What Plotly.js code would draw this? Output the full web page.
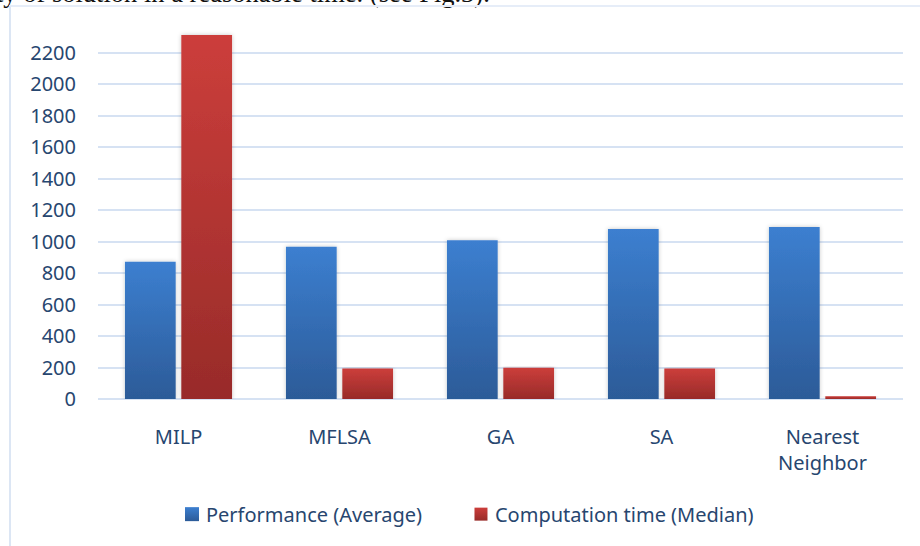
<!DOCTYPE html>
<html><head><meta charset="utf-8">
<script src="https://cdn.plot.ly/plotly-3.0.1.min.js"></script>
<style>
html,body{margin:0;padding:0;background:#fff;overflow:hidden}
#wrap{position:relative;width:920px;height:546px;overflow:hidden;background:#fff}
#frame{position:absolute;left:9px;top:5px;width:1000px;height:600px;border-left:2px solid #dce6f4;border-top:2px solid #e6edf8}
#doc{position:absolute;left:-4px;top:-21px;line-height:28px;font-family:"Liberation Serif",serif;font-size:26.5px;color:#111;white-space:nowrap}
#chart{position:absolute;left:0;top:0;width:920px;height:546px}
</style></head>
<body><div id="wrap"><div id="doc">ty of solution in a reasonable time. (see Fig.3).</div><div id="frame"></div><div id="chart"></div></div>
<script>
const categories = ["MILP", "MFLSA", "GA", "SA", "Nearest<br>Neighbor"];
const performanceAvg = [872, 966, 1008, 1079, 1092];
const computationMedian = [2311, 193, 199, 193, 17];
const yTickValues = [0, 200, 400, 600, 800, 1000, 1200, 1400, 1600, 1800, 2000, 2200];
const seriesNames = ["Performance (Average)", "Computation time (Median)"];

const textColor = "#27466f";
const font = {family: "Noto Sans", size: 20, color: textColor};

const traces = [
  {type: "bar", x: categories, y: performanceAvg, name: seriesNames[0], marker: {color: "#3570bb"}},
  {type: "bar", x: categories, y: computationMedian, name: seriesNames[1], marker: {color: "#b83533"}}
];

const layout = {
  width: 920, height: 546,
  margin: {l: 98, r: 16.5, t: 20.5, b: 144.5, pad: 0},
  paper_bgcolor: "rgba(0,0,0,0)", plot_bgcolor: "rgba(0,0,0,0)",
  font: font,
  barmode: "group", bargap: 0.3, bargroupgap: 0.1,
  showlegend: true,
  legend: {orientation: "h", x: 0.0919, xanchor: "left", y: -0.3046, yanchor: "middle",
           font: font, itemwidth: 30, traceorder: "normal",
           entrywidth: 244, entrywidthmode: "pixels"},
  xaxis: {type: "category", showgrid: false, zeroline: false, showline: false,
          ticks: "outside", ticklen: 20, tickcolor: "rgba(0,0,0,0)", tickfont: font},
  yaxis: {range: [0, 2400], tickmode: "array", tickvals: yTickValues, ticktext: yTickValues.map(String),
          showgrid: true, gridcolor: "#d6e2f3", gridwidth: 2,
          zeroline: true, zerolinecolor: "#d6e2f3", zerolinewidth: 2, showline: false,
          ticks: "outside", ticklen: 17, tickcolor: "rgba(0,0,0,0)", tickfont: font}
};

function addGradients(gd) {
  const svg = gd.querySelector(".main-svg");
  const NS = "http://www.w3.org/2000/svg";
  let defs = svg.querySelector("defs");
  if (!defs) { defs = document.createElementNS(NS, "defs"); svg.insertBefore(defs, svg.firstChild); }
  function grad(id, top, bottom) {
    const g = document.createElementNS(NS, "linearGradient");
    g.setAttribute("id", id); g.setAttribute("x1", "0"); g.setAttribute("y1", "0");
    g.setAttribute("x2", "0"); g.setAttribute("y2", "1");
    [[0, top], [1, bottom]].forEach(([o, c]) => {
      const s = document.createElementNS(NS, "stop");
      s.setAttribute("offset", o); s.setAttribute("stop-color", c); g.appendChild(s);
    });
    defs.appendChild(g);
  }
  grad("gBlue", "#3c7fd0", "#2c5b98");
  grad("gRed", "#cc3e3b", "#982b29");
  const f = document.createElementNS(NS, "filter");
  f.setAttribute("id", "shadow"); f.setAttribute("x", "-20%"); f.setAttribute("y", "-5%");
  f.setAttribute("width", "140%"); f.setAttribute("height", "110%");
  const ds = document.createElementNS(NS, "feDropShadow");
  ds.setAttribute("dx", "0"); ds.setAttribute("dy", "0"); ds.setAttribute("stdDeviation", "2");
  ds.setAttribute("flood-color", "#000"); ds.setAttribute("flood-opacity", "0.22");
  f.appendChild(ds); defs.appendChild(f);
  const ids = ["gBlue", "gRed"];
  gd.querySelectorAll(".barlayer .trace.bars").forEach((t, i) => {
    t.querySelectorAll("path").forEach(p => {
      p.style.fill = "url(#" + ids[i] + ")";
      p.style.filter = "url(#shadow)";
    });
  });
  gd.querySelectorAll(".legend [clip-path]").forEach(e => e.removeAttribute("clip-path"));
  gd.querySelectorAll(".legend .traces").forEach((t, i) => {
    t.querySelectorAll(".legendpoints path").forEach(p => {
      p.setAttribute("d", i === 0 ? "M7,7H-7V-7H7Z" : "M6.5,6.5H-6.5V-6.5H6.5Z");
      p.style.fill = "url(#" + ids[i] + ")";
    });
    t.querySelectorAll("text.legendtext").forEach(tx => tx.setAttribute("x", "34"));
  });
}

Plotly.newPlot("chart", traces, layout, {staticPlot: true, displayModeBar: false})
  .then(gd => addGradients(gd));
</script>
</body></html>
